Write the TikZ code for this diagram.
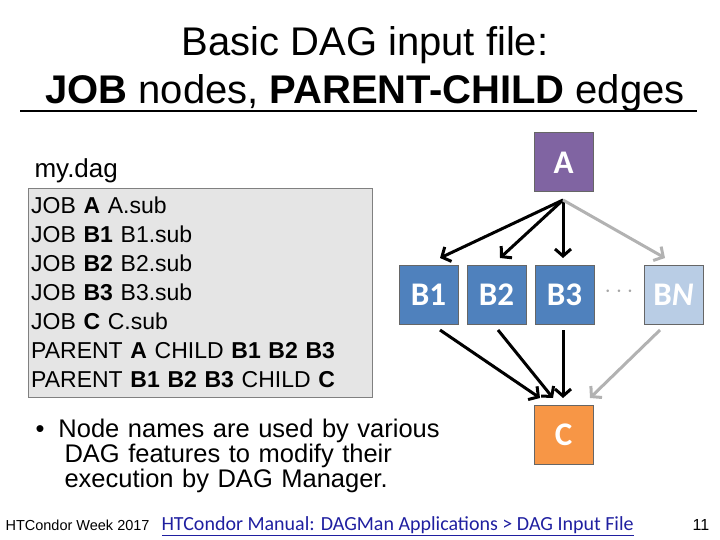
\documentclass[tikz,border=0pt]{standalone}
\usepackage{fontspec}
\setmainfont{Liberation Sans}
\newfontfamily\calib{Carlito}
\usepackage{tikz}
\usetikzlibrary{arrows.meta,chains,positioning}
\definecolor{jobA}{HTML}{8064A2}
\definecolor{jobB}{HTML}{4F81BD}
\definecolor{jobN}{HTML}{B9CDE5}
\definecolor{jobC}{HTML}{F79646}
\definecolor{linkblue}{HTML}{1F1FA0}

\begin{document}
\begin{tikzpicture}[x=1pt,y=-1pt,
node distance=8pt,
 start chain = B going right,
   job/.style = {rectangle, draw=black!60, line width=1pt,% boxes of the DAG
                 minimum width=59pt, minimum height=59pt, inner sep=0pt,
                 text=white, font=\calib\bfseries\fontsize{33}{36}\selectfont},
  edge/.style = {line width=3pt, -{Straight Barb[length=7pt,width=16pt]}},
 ghost/.style = {edge, black!30},
                        ]
\useasboundingbox (0,0) rectangle (720,540);
% title
\node (title1) at (365,45) {\fontsize{40}{46}\selectfont Basic DAG input file:};
\node (title2) at (365,93) {\fontsize{40}{46}\selectfont \textbf{JOB} nodes, \textbf{PARENT-CHILD} edges};
\draw[line width=2pt] (20,111) -- (697,111);
% file listing
\node[anchor=west, font=\fontsize{26}{30}\selectfont] (file) at (31,171) {my.dag};
\node[draw=black!50, fill=black!10, anchor=north west, minimum width=344pt,
      minimum height=209pt, text width=338pt, inner sep=3pt, align=left,
      font=\fontsize{23}{29}\selectfont] (listing) at (28,188)
  {JOB \textbf{A} A.sub\\ JOB \textbf{B1} B1.sub\\ JOB \textbf{B2} B2.sub\\
   JOB \textbf{B3} B3.sub\\ JOB \textbf{C} C.sub\\
   PARENT \textbf{A} CHILD \textbf{B1 B2 B3}\\
   PARENT \textbf{B1 B2 B3} CHILD \textbf{C}};
% nodes
\node[job, fill=jobA] (A) at (563.5,162.5) {A};
\node[job, fill=jobB, on chain] at (428.5,294.5) {B1};
\foreach \i in {2,3}
    \node[job, fill=jobB, on chain] {B\i};
\node[text=black!35, font=\bfseries\fontsize{26}{28}\selectfont] (dots) at (619,292) {$\cdots$};
\node[job, fill=jobN] (BN) at (673.5,294.5) {B\textit{N}};
\node[job, fill=jobC] (C) at (563.5,434.5) {C};
% edges
\coordinate (Aout) at (563,200);
\draw[edge] (Aout) -- (440,258);
\draw[edge] (Aout) -- (500,258);
\draw[edge] (Aout) -- (563,258);
\draw[ghost] (Aout) -- (665,258);
\draw[edge] (440,330) -- (540,398);
\draw[edge] (498,330) -- (553,398);
\draw[edge] (563,330) -- (563,398);
\draw[ghost] (660,330) -- (590,398);
% bullet
\node[anchor=north west, text width=440pt, align=left,
      font=\fontsize{25.5}{25}\selectfont] (note) at (28,415)
  {\hspace*{4pt}\textbullet\hspace{14pt}Node names are used by various\\
   \hspace*{33pt}DAG features to modify their\\
   \hspace*{33pt}execution by DAG Manager.};
% footer
\node[anchor=west, font=\fontsize{14.5}{16}\selectfont] (week) at (2,525) {HTCondor Week 2017};
\node[anchor=west, text=linkblue, font=\calib\fontsize{20}{22}\selectfont] (link) at (158,525) {HTCondor Manual: DAGMan Applications > DAG Input File};
\draw[linkblue, line width=0.8pt] (162,535) -- (634,535);
\node[font=\fontsize{16}{18}\selectfont] (page) at (701,525) {11};
\end{tikzpicture}
\end{document}
